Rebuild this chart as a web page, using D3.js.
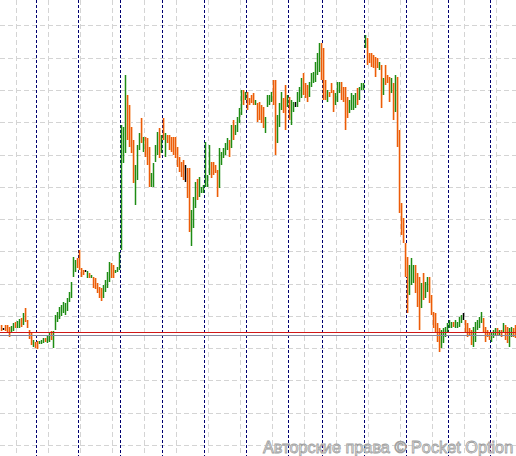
<!DOCTYPE html>
<html>
<head>
<meta charset="utf-8">
<script src="https://cdn.jsdelivr.net/npm/d3@7"></script>
<style>
    body { margin: 0; background: #ffffff; }
    svg { display: block; }
</style>
</head>
<body>
<div id="chart"></div>
<script>
// price levels are in points
let highs = [
    131,128,131,131,129,130,133,134,135,137, 138,143,148,136,126,123,116,114,115,115,
    116,118,118,121,123,125,125,141,144,149, 151,154,153,158,164,174,199,196,198,206,
    188,186,186,185,183,181,179,178,173,169, 168,171,176,184,194,193,191,186,189,204,
    331,329,381,361,351,329,316,291,311,323, 338,319,319,318,309,283,293,311,324,328,
    321,338,323,321,321,319,319,319,309,299, 294,296,291,288,288,246,259,274,277,279,
    269,271,314,281,311,294,294,291,286,308, 304,308,313,318,316,331,336,331,339,348,
    366,366,364,364,358,361,363,356,353,354, 351,349,339,361,361,364,376,376,341,353,
    364,358,371,361,359,356,354,354,364,369, 378,383,373,371,374,383,384,394,403,413,
    413,408,376,366,364,373,366,363,374,374, 374,369,369,359,356,363,361,363,368,369,
    373,373,421,418,403,403,401,399,398,394, 391,378,391,381,379,378,373,381,379,326,
    253,238,213,199,191,198,191,191,183,179, 173,183,174,179,179,161,144,143,133,128,
    126,128,129,133,136,134,134,136,134,139, 141,143,136,133,128,126,129,134,136,139,
    144,138,129,126,124,124,126,128,128,126, 126,133,131,129,128,129,128,131
];
let lows = [
    125,126,125,124,119,124,125,128,128,128, 129,131,134,128,117,111,109,108,107,112,
    112,113,114,113,114,116,108,126,134,137, 140,143,141,145,154,158,179,184,188,186,
    179,181,184,178,178,178,168,167,163,158, 155,158,164,168,174,178,178,183,184,186,
    206,293,303,316,309,303,273,251,276,306, 313,304,299,291,269,269,269,294,301,298,
    303,316,299,313,306,304,301,298,289,284, 279,276,274,258,224,210,228,248,256,259,
    263,263,269,269,281,278,281,283,259,268, 291,298,301,306,299,308,316,321,324,333,
    341,351,356,346,351,353,351,351,334,336, 333,328,323,349,351,354,351,301,313,329,
    346,343,326,349,336,331,344,349,349,354, 358,361,358,354,359,369,373,374,381,384,
    376,356,356,354,359,363,344,351,354,363, 356,354,326,338,343,346,346,348,351,356,
    366,366,408,391,393,389,388,379,388,386, 348,361,371,373,354,363,336,344,309,243,
    221,213,179,143,161,171,173,163,149,126, 148,156,158,164,153,141,128,123,114,104,
    108,113,119,124,128,128,129,128,128,129, 133,136,124,119,121,111,109,114,126,128,
    133,124,114,119,116,114,118,121,121,121, 119,123,116,113,109,119,119,118
];
// u = bull bar, d = bear bar, n = unchanged
let dirs = (
    "dnddduuduu" + "dudddduddu" + "uuduuduuuu" + "uuuuuuuudd" + "ddnududddd" +
    "duuuudduuu" + "uuudddduuu" + "duddduuuud" + "ududdddddd" + "ddndduuudu" +
    "uuuuuddddu" + "uuuududuuu" + "ududdddudd" + "dduuuudduu" + "udduduunuu" +
    "uddduuuuuu" + "ddduddduuu" + "dddduuuudu" + "uuuddddddu" + "dudddududd" +
    "dddduuuddd" + "uduudddddd" + "uuuuuuduuu" + "undddduuuu" + "udddduuudu" +
    "dudduudd"
).split("");
// bar index where each new session starts
let sessionStarts = [18, 39, 60, 81, 102, 123, 144, 161, 182, 203, 224, 245];
let askPrice = 124;
let bidPrice = 121;
let watermark = "Авторские права © Pocket Option";

let width = 516;
let height = 456;
let barColors = {u: "#1e8c14", d: "#ec5c08", n: "#000000"};

let svg = d3.select("#chart")
    .append("svg")
    .attr("width", width)
    .attr("height", height)
    .style("font-family", "'Liberation Sans', Arial, sans-serif");

let scaleX = d3.scaleLinear()
    .domain([0, highs.length - 1])
    .range([1.5, width - 0.5]);

let scaleY = d3.scaleLinear()
    .domain([0, height])
    .range([height, 0]);

let crisp = v => Math.round(v - 0.5) + 0.5;

// light dashed grid
let gridY = d3.range(0, 14).map(k => 430 - 32.25 * k);
svg.append("g")
    .attr("shape-rendering", "crispEdges")
    .selectAll("line")
    .data(gridY)
    .enter()
    .append("line")
    .attr("x1", 0)
    .attr("x2", width)
    .attr("y1", d => crisp(scaleY(d)))
    .attr("y2", d => crisp(scaleY(d)))
    .attr("stroke", "#d4d4d4")
    .attr("stroke-dasharray", "5,3");

let gridX = d3.range(7.5, highs.length, 16);
svg.append("g")
    .attr("shape-rendering", "crispEdges")
    .selectAll("line")
    .data(gridX)
    .enter()
    .append("line")
    .attr("x1", d => crisp(scaleX(d)))
    .attr("x2", d => crisp(scaleX(d)))
    .attr("y1", 0)
    .attr("y2", height)
    .attr("stroke", "#d4d4d4")
    .attr("stroke-dasharray", "5,3");

// session separators
svg.append("g")
    .attr("shape-rendering", "crispEdges")
    .selectAll("line")
    .data(sessionStarts)
    .enter()
    .append("line")
    .attr("x1", d => crisp(scaleX(d) - 1))
    .attr("x2", d => crisp(scaleX(d) - 1))
    .attr("y1", 0)
    .attr("y2", height)
    .attr("stroke", "#000070")
    .attr("stroke-dasharray", "3,2");

// price bars
let bars = svg.append("g");
bars.selectAll(".halo")
    .data(highs.map((h, i) => i).filter(i => dirs[i] === "d"))
    .enter()
    .append("line")
    .attr("x1", i => scaleX(i) + 0.5)
    .attr("x2", i => scaleX(i) + 0.5)
    .attr("y1", i => scaleY(highs[i]))
    .attr("y2", i => scaleY(lows[i]))
    .attr("stroke", "#fde6cf")
    .attr("stroke-width", 2);

bars.selectAll(".bar")
    .data(highs.map((h, i) => i))
    .enter()
    .append("line")
    .attr("x1", i => scaleX(i))
    .attr("x2", i => scaleX(i))
    .attr("y1", i => scaleY(highs[i]))
    .attr("y2", i => scaleY(lows[i]))
    .attr("stroke", i => barColors[dirs[i]])
    .attr("stroke-width", 1.5);

// ask and bid lines
svg.append("line")
    .attr("shape-rendering", "crispEdges")
    .attr("x1", 0)
    .attr("x2", width)
    .attr("y1", crisp(scaleY(askPrice)))
    .attr("y2", crisp(scaleY(askPrice)))
    .attr("stroke", "#d01818");

svg.append("line")
    .attr("shape-rendering", "crispEdges")
    .attr("x1", 0)
    .attr("x2", width)
    .attr("y1", crisp(scaleY(bidPrice)))
    .attr("y2", crisp(scaleY(bidPrice)))
    .attr("stroke", "#8888a0");

// copyright watermark
svg.append("text")
    .attr("x", 263)
    .attr("y", 453)
    .attr("font-size", 16.3)
    .attr("fill", "#f2f2f2")
    .attr("stroke", "#a0a0a0")
    .attr("stroke-width", 0.8)
    .text(watermark);
</script>
</body>
</html>
